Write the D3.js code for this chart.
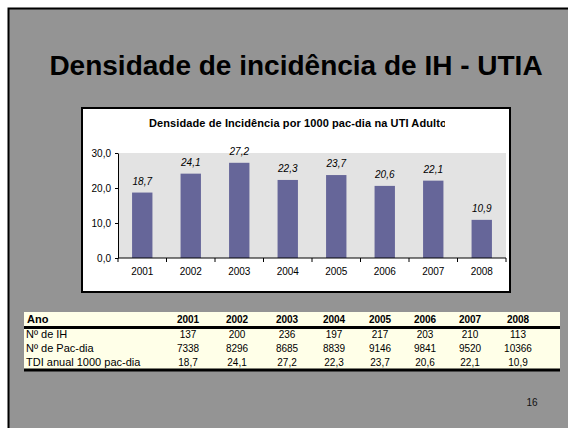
<!DOCTYPE html>
<html>
<head>
<meta charset="utf-8">
<script src="https://cdn.jsdelivr.net/npm/d3@7"></script>
<style>
  html, body { margin: 0; padding: 0; background: #fff; }
  svg { display: block; font-family: Arial, "Liberation Sans", sans-serif; }
</style>
</head>
<body>
<svg id="slide" width="568" height="428"></svg>
<script>
// data
const years = ["2001", "2002", "2003", "2004", "2005", "2006", "2007", "2008"];
const tdi = [18.7, 24.1, 27.2, 22.3, 23.7, 20.6, 22.1, 10.9];
const numIH = [137, 200, 236, 197, 217, 203, 210, 113];
const pacDia = [7338, 8296, 8685, 8839, 9146, 9841, 9520, 10366];
const yTicks = [0, 10, 20, 30];
const rowLabels = ["Nº de IH", "Nº de Pac-dia", "TDI anual 1000 pac-dia"];

const fmt1 = (v) => d3.format(".1f")(v).replace(".", ",");

const svg = d3.select("#slide");

// slide background
svg.append("rect")
  .attr("x", 8.5).attr("y", 8.5)
  .attr("width", 580).attr("height", 440)
  .attr("fill", "#949494")
  .attr("stroke", "#000")
  .attr("stroke-width", 2);

svg.append("text")
  .attr("x", 296).attr("y", 75)
  .attr("text-anchor", "middle")
  .attr("font-size", 28)
  .attr("font-weight", "bold")
  .attr("fill", "#000")
  .text("Densidade de incidência de IH - UTIA");

// chart box
svg.append("rect")
  .attr("x", 82).attr("y", 108)
  .attr("width", 428).attr("height", 184)
  .attr("fill", "#fff")
  .attr("stroke", "#000")
  .attr("stroke-width", 2);

svg.append("clipPath").attr("id", "titleClip")
  .append("rect").attr("x", 82).attr("y", 108).attr("width", 363).attr("height", 40);

svg.append("text")
  .attr("clip-path", "url(#titleClip)")
  .attr("x", 149).attr("y", 126.5)
  .attr("font-size", 11)
  .attr("letter-spacing", 0.1)
  .attr("font-weight", "bold")
  .attr("fill", "#000")
  .text("Densidade de Incidência por 1000 pac-dia na UTI Adulto");

const plot = { left: 118, right: 506, top: 153, bottom: 258 };

const x = d3.scaleBand()
  .domain(years)
  .range([plot.left, plot.right])
  .paddingInner(0.58)
  .paddingOuter(0.29);

const y = d3.scaleLinear()
  .domain([0, 30])
  .range([plot.bottom, plot.top]);

svg.append("rect")
  .attr("x", plot.left).attr("y", plot.top)
  .attr("width", plot.right - plot.left)
  .attr("height", plot.bottom - plot.top)
  .attr("fill", "#e3e3e3");

svg.append("g")
  .selectAll("rect")
  .data(tdi)
  .join("rect")
  .attr("x", (d, i) => x(years[i]))
  .attr("y", (d) => y(d))
  .attr("width", x.bandwidth())
  .attr("height", (d) => y(0) - y(d))
  .attr("fill", "#666699");

svg.append("g")
  .selectAll("text")
  .data(tdi)
  .join("text")
  .attr("x", (d, i) => x(years[i]) + x.bandwidth() / 2)
  .attr("y", (d) => y(d) - 8)
  .attr("text-anchor", "middle")
  .attr("font-size", 10)
  .attr("font-style", "italic")
  .attr("fill", "#000")
  .text((d) => fmt1(d));

// y axis
const yAxis = svg.append("g")
  .attr("transform", `translate(${plot.left},0)`)
  .call(d3.axisLeft(y).tickValues(yTicks).tickSize(3).tickSizeOuter(0).tickPadding(4).tickFormat(fmt1));
yAxis.select(".domain").attr("stroke", "#000");
yAxis.selectAll("text").attr("font-size", 10).attr("font-family", "Arial, sans-serif").attr("fill", "#000");

// x axis with ticks at category boundaries
const xAxis = svg.append("g")
  .attr("transform", `translate(0,${plot.bottom})`)
  .call(d3.axisBottom(x).tickSize(0).tickPadding(10));
xAxis.select(".domain").attr("stroke", "#000").attr("d", `M${plot.left},0H${plot.right}`);
xAxis.selectAll("text").attr("font-size", 10).attr("font-family", "Arial, sans-serif").attr("fill", "#000");

const bounds = years.map((yr) => x(yr) - x.step() * x.paddingInner() / 2).concat([plot.right]);
xAxis.selectAll("line.bound")
  .data(bounds)
  .join("line")
  .attr("class", "bound")
  .attr("x1", (d) => d).attr("x2", (d) => d)
  .attr("y1", 0).attr("y2", 4)
  .attr("stroke", "#000");

// table
const table = { left: 24, right: 560, top: 312, bottom: 371 };
const colX = [188, 237, 287, 334, 380, 425, 470, 518];
const rowY = [334, 348, 362];

svg.append("rect")
  .attr("x", table.left).attr("y", table.top)
  .attr("width", table.right - table.left)
  .attr("height", table.bottom - table.top)
  .attr("fill", "#ffffe8");

svg.append("line")
  .attr("x1", table.left).attr("x2", table.right)
  .attr("y1", 327.5).attr("y2", 327.5)
  .attr("stroke", "#000").attr("stroke-width", 3);
svg.append("line")
  .attr("x1", table.left).attr("x2", table.right)
  .attr("y1", 370).attr("y2", 370)
  .attr("stroke", "#000").attr("stroke-width", 3);

svg.append("text")
  .attr("x", 27).attr("y", 322.5)
  .attr("font-size", 11).attr("font-weight", "bold")
  .text("Ano");

svg.append("g")
  .selectAll("text")
  .data(years)
  .join("text")
  .attr("x", (d, i) => colX[i])
  .attr("y", 322.5)
  .attr("text-anchor", "middle")
  .attr("font-size", 10)
  .attr("font-weight", "bold")
  .text((d) => d);

const rows = [
  numIH.map((v) => String(v)),
  pacDia.map((v) => String(v)),
  tdi.map(fmt1)
];

rows.forEach((vals, r) => {
  svg.append("text")
    .attr("x", 26).attr("y", rowY[r] + 3.5)
    .attr("font-size", 11)
    .text(rowLabels[r]);
  svg.append("g")
    .selectAll("text")
    .data(vals)
    .join("text")
    .attr("x", (d, i) => colX[i])
    .attr("y", rowY[r] + 3.5)
    .attr("text-anchor", "middle")
    .attr("font-size", 10)
    .text((d) => d);
});

svg.append("text")
  .attr("x", 532).attr("y", 405.5)
  .attr("text-anchor", "middle")
  .attr("font-size", 10)
  .attr("fill", "#111")
  .text("16");
</script>
</body>
</html>
